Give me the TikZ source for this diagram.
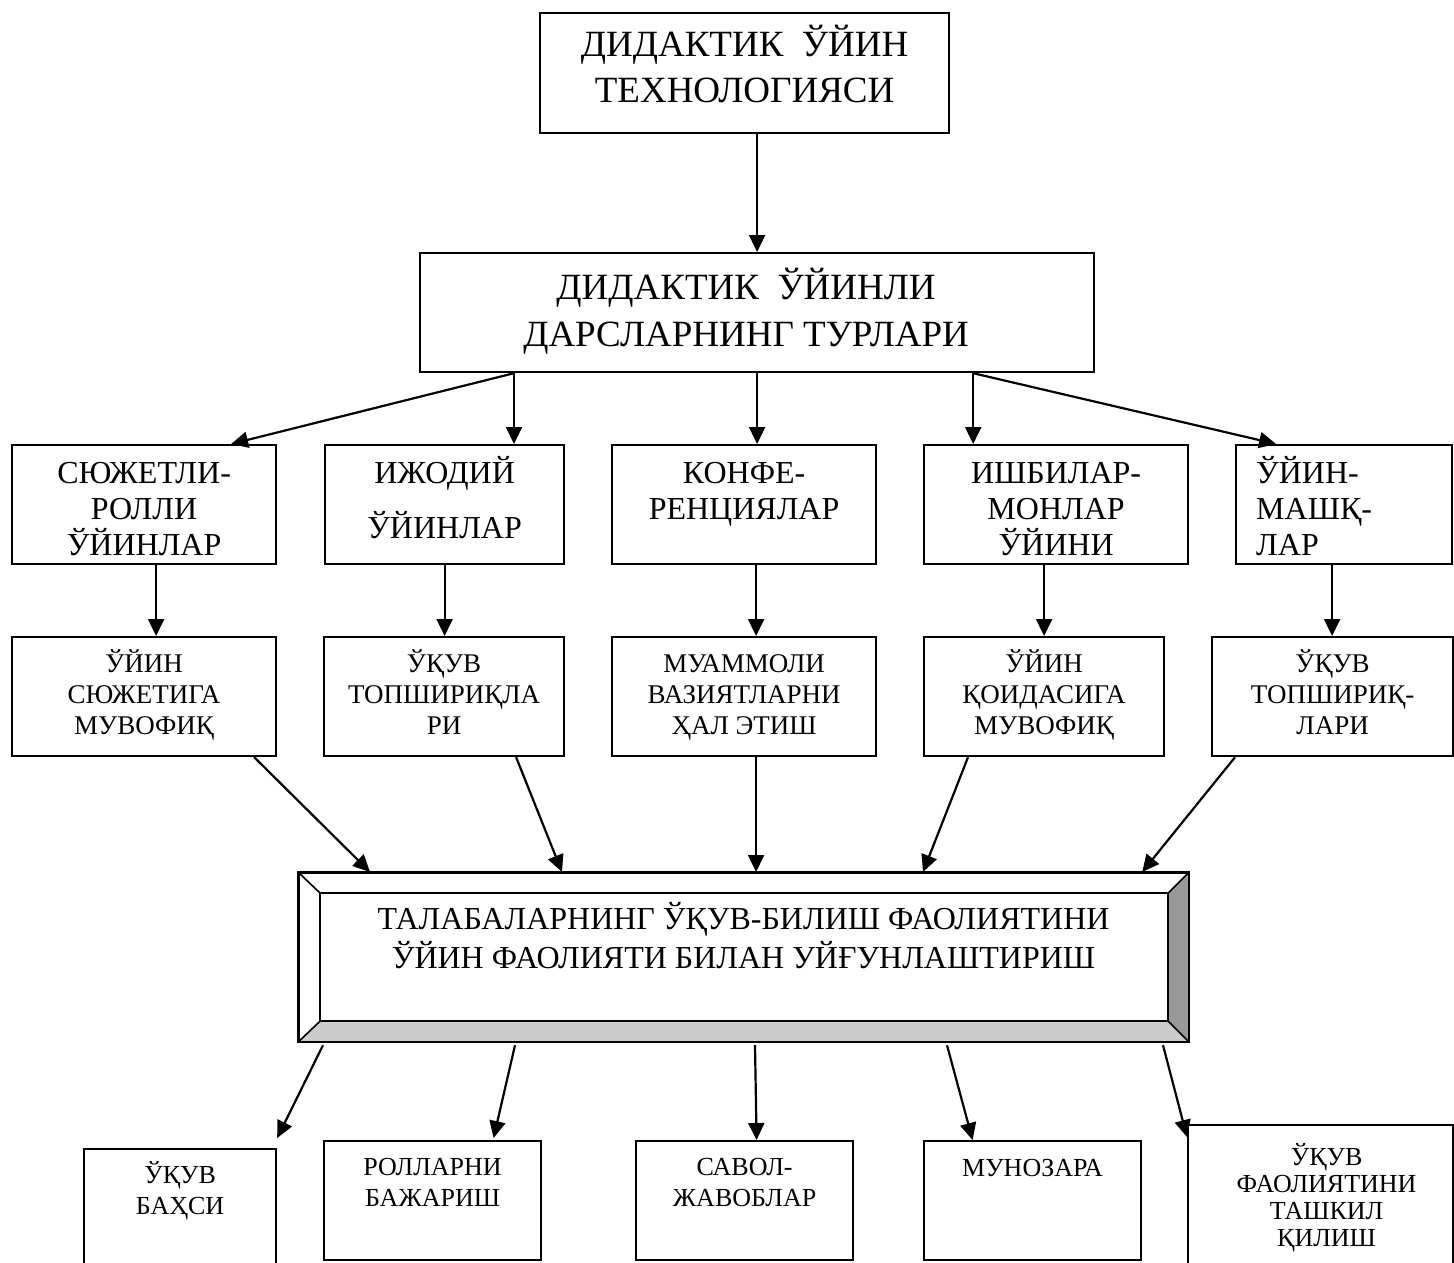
\documentclass[tikz,border=0pt]{standalone}
\usepackage{fontspec}
\setmainfont{Liberation Serif}
\usetikzlibrary{arrows.meta}

\newcommand{\topstrut}{\rule{0pt}{.95em}}

\tikzset{
  box/.style={draw, line width=2.2pt, inner sep=0pt, anchor=north west},
  txt/.style={inner sep=0pt, anchor=north, align=center},
  headtxt/.style={txt, font=\fontsize{37}{46}\selectfont},
  kindtxt/.style={txt, font=\fontsize{32}{36}\selectfont},
  tasktxt/.style={txt, font=\fontsize{27}{31}\selectfont},
  maintxt/.style={txt, font=\fontsize{32}{39}\selectfont},
  formtxt/.style={txt, font=\fontsize{26}{30.5}\selectfont},
  arr/.style={line width=2.2pt, -{Triangle[length=17pt,width=16pt]}},
}

\begin{document}
\begin{tikzpicture}[x=1pt,y=-1pt]
    \useasboundingbox (0,0) rectangle (1454,1263);

    % Technology and lesson types
    \node[box, minimum width=409pt, minimum height=120pt] (tech) at (539,12) {};
    \node[headtxt] (tech-t) at ([yshift=-9pt]tech.north) {\topstrut ДИДАКТИК~ ЎЙИН\\ТЕХНОЛОГИЯСИ};
    \node[box, minimum width=674pt, minimum height=119pt] (types) at (419,252) {};
    \node[headtxt] (types-t) at ([shift={(-11,12)}]types.north) {\topstrut ДИДАКТИК~ ЎЙИНЛИ\\[1pt]ДАРСЛАРНИНГ ТУРЛАРИ};

    % Kinds of games
    \node[box, minimum width=264pt, minimum height=119pt] (g1) at (11,444) {};
    \node[box, minimum width=239pt, minimum height=119pt] (g2) at (324,444) {};
    \node[box, minimum width=264pt, minimum height=119pt] (g3) at (611,444) {};
    \node[box, minimum width=264pt, minimum height=119pt] (g4) at (923,444) {};
    \node[box, minimum width=216pt, minimum height=119pt] (g5) at (1235,444) {};
    \node[kindtxt] (g1-t) at ([yshift=-9.1pt]g1.north) {\topstrut СЮЖЕТЛИ-\\РОЛЛИ\\ЎЙИНЛАР};
    \node[kindtxt] (g2-t) at ([yshift=-9.1pt]g2.north) {\topstrut ИЖОДИЙ\\[19pt]ЎЙИНЛАР};
    \node[kindtxt] (g3-t) at ([yshift=-9.1pt]g3.north) {\topstrut КОНФЕ-\\РЕНЦИЯЛАР};
    \node[kindtxt] (g4-t) at ([yshift=-9.1pt]g4.north) {\topstrut ИШБИЛАР-\\МОНЛАР\\ЎЙИНИ};
    \node[kindtxt, anchor=north west, align=left] (g5-t) at ([shift={(21,9.1)}]g5.north west) {\topstrut ЎЙИН-\\МАШҚ-\\ЛАР};

    % Tasks
    \node[box, minimum width=264pt, minimum height=119pt] (t1) at (11,636) {};
    \node[box, minimum width=240pt, minimum height=119pt] (t2) at (323,636) {};
    \node[box, minimum width=264pt, minimum height=119pt] (t3) at (611,636) {};
    \node[box, minimum width=240pt, minimum height=119pt] (t4) at (923,636) {};
    \node[box, minimum width=241pt, minimum height=119pt] (t5) at (1211,636) {};
    \node[tasktxt] (t1-t) at ([yshift=-10.2pt]t1.north) {\topstrut ЎЙИН\\СЮЖЕТИГА\\МУВОФИҚ};
    \node[tasktxt] (t2-t) at ([yshift=-10.2pt]t2.north) {\topstrut ЎҚУВ\\ТОПШИРИҚЛА\\РИ};
    \node[tasktxt] (t3-t) at ([yshift=-10.2pt]t3.north) {\topstrut МУАММОЛИ\\ВАЗИЯТЛАРНИ\\ҲАЛ ЭТИШ};
    \node[tasktxt] (t4-t) at ([yshift=-10.2pt]t4.north) {\topstrut ЎЙИН\\ҚОИДАСИГА\\МУВОФИҚ};
    \node[tasktxt] (t5-t) at ([yshift=-10.2pt]t5.north) {\topstrut ЎҚУВ\\ТОПШИРИҚ-\\ЛАРИ};

    % Bevelled main box
    \node[box, minimum width=889pt, minimum height=168pt] (main) at (298,872) {};
    \coordinate (m-nw) at ([shift={(22,21)}]main.north west);
    \coordinate (m-ne) at ([shift={(-21,21)}]main.north east);
    \coordinate (m-se) at ([shift={(-21,-21)}]main.south east);
    \coordinate (m-sw) at ([shift={(22,-21)}]main.south west);
    \fill[black!40] (main.north east) -- (main.south east) -- (m-se) -- (m-ne) -- cycle;
    \fill[black!20] (main.south west) -- (main.south east) -- (m-se) -- (m-sw) -- cycle;
    \draw[line width=1.6pt] (main.north west) -- (m-nw) (main.north east) -- (m-ne)
        (main.south east) -- (m-se) (main.south west) -- (m-sw);
    \draw[line width=2.2pt] (m-nw) rectangle (m-se);
    \draw[line width=2.2pt] (main.north west) rectangle (main.south east);
    \node[maintxt] (main-t) at ([yshift=-27pt]main.north) {\topstrut ТАЛАБАЛАРНИНГ ЎҚУВ-БИЛИШ ФАОЛИЯТИНИ\\ЎЙИН ФАОЛИЯТИ БИЛАН УЙҒУНЛАШТИРИШ};

    % Forms
    \node[box, minimum width=192pt, minimum height=130pt] (b1) at (83,1148) {};
    \node[box, minimum width=217pt, minimum height=119pt] (b2) at (323,1140) {};
    \node[box, minimum width=217pt, minimum height=119pt] (b3) at (635,1140) {};
    \node[box, minimum width=217pt, minimum height=119pt] (b4) at (923,1140) {};
    \node[box, minimum width=265pt, minimum height=150pt] (b5) at (1187,1124) {};
    \node[formtxt] (b1-t) at ([yshift=-10.8pt]b1.north) {\topstrut ЎҚУВ\\БАҲСИ};
    \node[formtxt] (b2-t) at ([yshift=-10.8pt]b2.north) {\topstrut РОЛЛАРНИ\\БАЖАРИШ};
    \node[formtxt] (b3-t) at ([yshift=-10.8pt]b3.north) {\topstrut САВОЛ-\\ЖАВОБЛАР};
    \node[formtxt] (b4-t) at ([yshift=-11.8pt]b4.north) {\topstrut МУНОЗАРА};
    \node[formtxt, font=\fontsize{26}{27}\selectfont] (b5-t) at ([shift={(6,16.8)}]b5.north) {\topstrut ЎҚУВ\\ФАОЛИЯТИНИ\\ТАШКИЛ\\ҚИЛИШ};

    % Arrows
    \draw[arr] (tech.south -| types.north) -- (types.north);

    \draw[arr] ([xshift=95pt]types.south west) -- ([xshift=87pt]g1.north);
    \draw[arr] ([xshift=95pt]types.south west) -- ([xshift=95pt]types.south west |- g2.north);
    \draw[arr] (types.south) -- (types.south |- g3.north);
    \draw[arr] ([xshift=-122pt]types.south east) -- ([xshift=-122pt]types.south east |- g4.north);
    \draw[arr] ([xshift=-122pt]types.south east) -- ([xshift=-68pt]g5.north);

    \draw[arr] ([xshift=12pt]g1.south) -- ([xshift=12pt]g1.south |- t1.north);
    \draw[arr] (g2.south) -- (g2.south |- t2.north);
    \draw[arr] ([xshift=12pt]g3.south) -- ([xshift=12pt]g3.south |- t3.north);
    \draw[arr] ([xshift=-12pt]g4.south) -- ([xshift=-12pt]g4.south |- t4.north);
    \draw[arr] ([xshift=-12pt]g5.south) -- ([xshift=-12pt]g5.south |- t5.north);

    \draw[arr] ([xshift=-23pt]t1.south east) -- ([xshift=72pt]main.north west);
    \draw[arr] ([xshift=72pt]t2.south) -- ([xshift=264pt]main.north west);
    \draw[arr] ([xshift=12pt]t3.south) -- ([xshift=12pt]t3.south |- main.north);
    \draw[arr] ([xshift=45pt]t4.south west) -- ([xshift=625pt]main.north west);
    \draw[arr] ([xshift=24pt]t5.south west) -- ([xshift=-47pt]main.north east);

    \draw[arr] ([shift={(25,3)}]main.south west) -- ([yshift=10pt]b1.north east);
    \draw[arr] ([shift={(217,3)}]main.south west) -- ([shift={(61,-2)}]b2.north);
    \draw[arr] ([shift={(457,3)}]main.south west) -- ([xshift=12pt]b3.north);
    \draw[arr] ([shift={(649,3)}]main.south west) -- ([xshift=-60pt]b4.north);
    \draw[arr] ([shift={(865,3)}]main.south west) -- ([yshift=-13pt]b5.north west);
\end{tikzpicture}
\end{document}
